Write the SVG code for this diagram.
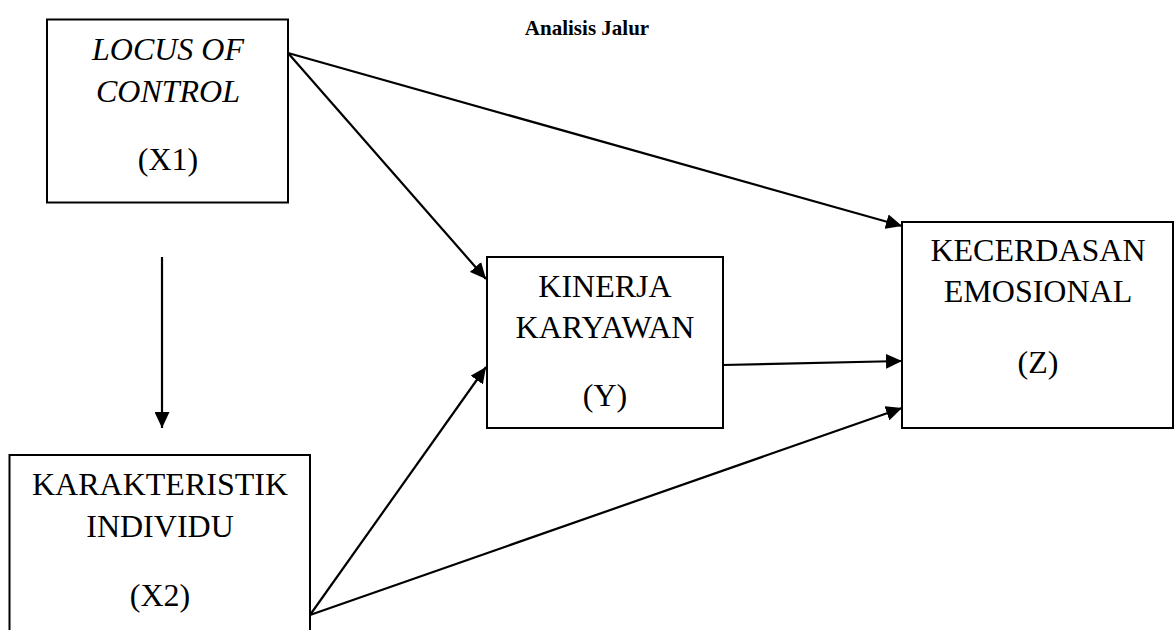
<svg xmlns="http://www.w3.org/2000/svg" width="1174" height="630" viewBox="0 0 1174 630">
<style>
.box{fill:#fff;stroke:#000;stroke-width:2}
text{font-family:'Liberation Serif','Times New Roman',Tinos,'DejaVu Serif',serif;fill:#000;text-anchor:middle}
.t{font-size:32px}
.i{font-style:italic}
.title{font-size:21px;font-weight:bold}
.c{stroke:#000;stroke-width:2.2;fill:none;marker-end:url(#ah)}
</style>
<defs>
<marker id="ah" markerUnits="userSpaceOnUse" markerWidth="17" markerHeight="15" refX="16" refY="7.5" orient="auto">
<path d="M0,0 L16,7.5 L0,15 z" fill="#000"/>
</marker>
</defs>
<rect width="1174" height="630" fill="#fff"/>
<text class="title" x="587" y="35">Analisis Jalur</text>
<g id="connectors">
<line class="c" x1="288" y1="53" x2="902" y2="226"/>
<line class="c" x1="288" y1="53" x2="486" y2="279"/>
<line class="c" x1="162" y1="257" x2="162" y2="428"/>
<line class="c" x1="723" y1="365" x2="902" y2="361"/>
<line class="c" x1="310" y1="615" x2="486" y2="367"/>
<line class="c" x1="310" y1="615" x2="902" y2="408"/>
</g>
<g id="x1">
<rect class="box" x="47" y="19.5" width="241" height="183"/>
<text class="t i" x="168" y="60">LOCUS OF</text>
<text class="t i" x="168" y="101.5">CONTROL</text>
<text class="t" x="168" y="170">(X1)</text>
</g>
<g id="x2">
<rect class="box" x="9.5" y="455" width="300.5" height="190"/>
<text class="t" x="160" y="495">KARAKTERISTIK</text>
<text class="t" x="160" y="536.5">INDIVIDU</text>
<text class="t" x="160" y="606">(X2)</text>
</g>
<g id="y">
<rect class="box" x="487" y="257" width="236" height="171"/>
<text class="t" x="605" y="296.5">KINERJA</text>
<text class="t" x="605" y="338">KARYAWAN</text>
<text class="t" x="605" y="406">(Y)</text>
</g>
<g id="z">
<rect class="box" x="902" y="222" width="271" height="206"/>
<text class="t" x="1038" y="260.5">KECERDASAN</text>
<text class="t" x="1038" y="302">EMOSIONAL</text>
<text class="t" x="1038" y="373">(Z)</text>
</g>
</svg>
